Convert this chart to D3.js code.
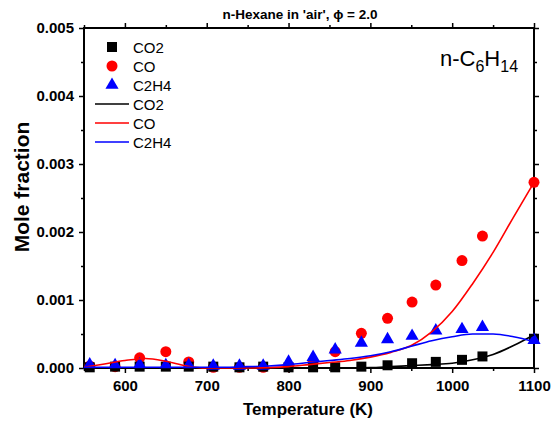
<!DOCTYPE html>
<html><head><meta charset="utf-8">
<script src="https://cdn.jsdelivr.net/npm/d3@7"></script>
<style>body{margin:0;background:#fff} text{font-family:"Liberation Sans",Arial,sans-serif}</style>
</head><body>
<svg id="c" width="560" height="427"></svg>
<script>
// measured points
const temps = [557, 588, 618, 650, 678, 708, 740, 769, 800, 830, 857, 889, 921, 951, 980, 1012, 1037, 1100];
const co2  = [0.00001, 0.00002, 0.00002, 0.00002, 0.00002, 0.00002, 0.00001, 0.00002, 0.00001, 0.00001, 0.00001, 0.00002, 0.00004, 0.00007, 0.00009, 0.00012, 0.00017, 0.00043];
const co   = [0.00003, 0.00002, 0.00015, 0.00024, 0.00009, 0.00001, 0.00001, 0.00001, 0.00002, 0.00009, 0.00024, 0.00051, 0.00073, 0.00097, 0.00122, 0.00158, 0.00194, 0.00273];
const c2h4 = [0.00005, 0.00004, 0.00005, 0.00004, 0.00004, 0.00003, 0.00003, 0.00003, 0.00009, 0.00016, 0.00027, 0.00037, 0.00042, 0.00047, 0.00055, 0.00057, 0.00060, 0.00041];
// model curves
const modelT    = [550, 575, 600, 625, 650, 675, 700, 725, 750, 775, 800, 825, 850, 875, 900, 925, 950, 975, 1000, 1025, 1050, 1075, 1100];
const modelCO2  = [0, 0, 0, 0, 0, 0, 0, 0, 0, 0, 0, 0, 0, 0, 0.000005, 0.00002, 0.000035, 0.00005, 0.00007, 0.00012, 0.00020, 0.00033, 0.00049];
const modelCO   = [0.00001, 0.00006, 0.00011, 0.00014, 0.00010, 0.00003, 0.0, 0.0, 0.0, 0.000005, 0.00002, 0.00005, 0.00008, 0.00011, 0.00016, 0.00023, 0.00033, 0.00053, 0.00083, 0.00124, 0.00170, 0.00222, 0.00273];
const modelC2H4 = [0.00001, 0.00001, 0.00001, 0.00001, 0.00001, 0.00001, 0.00001, 0.00001, 0.00002, 0.00003, 0.00005, 0.00008, 0.00011, 0.00014, 0.00018, 0.00024, 0.00032, 0.00040, 0.00046, 0.00050, 0.00050, 0.00046, 0.00039];
const xTicks = [600, 700, 800, 900, 1000, 1100];
const xMinor = [550, 650, 750, 850, 950, 1050];
const yTicks = [0, 0.001, 0.002, 0.003, 0.004, 0.005];
const yMinor = [0.0005, 0.0015, 0.0025, 0.0035, 0.0045];
const legendNames = ["CO2", "CO", "C2H4"];
const colors = ["#000000", "#ff0000", "#0000ff"];

const svg = d3.select("#c");
const L = 84, R = 534, T = 28, B = 368;
const x = d3.scaleLinear().domain([550, 1100]).range([L, R]);
const y = d3.scaleLinear().domain([0, 0.005]).range([B, T]);

function styleAxis(g, fs) {
  g.select(".domain").remove();
  g.selectAll(".tick line").attr("stroke", "#000").attr("stroke-width", 1.5);
  g.selectAll(".tick text").attr("font-size", fs).attr("font-weight", "bold")
    .attr("font-family", '"Liberation Sans",Arial,sans-serif').attr("fill", "#000");
}
// bottom
svg.append("g").attr("transform", `translate(0,${B})`)
  .call(d3.axisBottom(x).tickValues(xTicks).tickSize(5).tickPadding(7).tickFormat(d3.format("d")))
  .call(g => styleAxis(g, 15));
svg.append("g").attr("transform", `translate(0,${B})`)
  .call(d3.axisBottom(x).tickValues(xMinor).tickSize(3).tickFormat(""))
  .call(g => styleAxis(g, 15));
// top
svg.append("g").attr("transform", `translate(0,${T})`)
  .call(d3.axisTop(x).tickValues(xTicks).tickSize(5).tickFormat(""))
  .call(g => styleAxis(g, 15));
svg.append("g").attr("transform", `translate(0,${T})`)
  .call(d3.axisTop(x).tickValues(xMinor).tickSize(3).tickFormat(""))
  .call(g => styleAxis(g, 15));
// left
svg.append("g").attr("transform", `translate(${L},0)`)
  .call(d3.axisLeft(y).tickValues(yTicks).tickSize(5).tickPadding(5).tickFormat(d3.format(".3f")))
  .call(g => styleAxis(g, 15));
svg.append("g").attr("transform", `translate(${L},0)`)
  .call(d3.axisLeft(y).tickValues(yMinor).tickSize(3).tickFormat(""))
  .call(g => styleAxis(g, 15));
// right
svg.append("g").attr("transform", `translate(${R},0)`)
  .call(d3.axisRight(y).tickValues(yTicks).tickSize(5).tickFormat(""))
  .call(g => styleAxis(g, 15));
svg.append("g").attr("transform", `translate(${R},0)`)
  .call(d3.axisRight(y).tickValues(yMinor).tickSize(3).tickFormat(""))
  .call(g => styleAxis(g, 15));

svg.append("rect").attr("x", L).attr("y", T).attr("width", R - L).attr("height", B - T)
  .attr("fill", "none").attr("stroke", "#000").attr("stroke-width", 2);

const plot = svg.append("g");

// markers
const symSquare = d3.symbol().type(d3.symbolSquare).size(100);
const symCircle = d3.symbol().type(d3.symbolCircle).size(95);
const symTri = d3.symbol().type(d3.symbolTriangle).size(75);

plot.selectAll(".co").data(temps).join("path")
  .attr("d", symCircle).attr("fill", colors[1])
  .attr("transform", (d, i) => `translate(${x(d)},${y(co[i])})`);
plot.selectAll(".co2").data(temps).join("path")
  .attr("d", symSquare).attr("fill", colors[0])
  .attr("transform", (d, i) => `translate(${x(d)},${y(co2[i])})`);
plot.selectAll(".c2h4").data(temps).join("path")
  .attr("d", symTri).attr("fill", colors[2])
  .attr("transform", (d, i) => `translate(${x(d)},${y(c2h4[i])})`);

// lines
const line = d3.line().curve(d3.curveMonotoneX);
[[modelCO2, 0], [modelCO, 1], [modelC2H4, 2]].forEach(([arr, ci]) => {
  plot.append("path")
    .attr("d", line(modelT.map((t, i) => [x(t), y(arr[i])])))
    .attr("fill", "none").attr("stroke", colors[ci]).attr("stroke-width", 1.6);
});

// legend
const lg = svg.append("g");
const rowY = [47, 66, 85, 104, 123, 142];
const syms = [symSquare, symCircle, symTri];
legendNames.forEach((n, i) => {
  lg.append("path").attr("d", syms[i]).attr("fill", colors[i])
    .attr("transform", `translate(112,${rowY[i]})`);
  lg.append("text").attr("x", 133).attr("y", rowY[i] + 5.5).attr("font-size", 15).text(n);
});
legendNames.forEach((n, i) => {
  const yy = rowY[i + 3];
  lg.append("line").attr("x1", 95).attr("x2", 129).attr("y1", yy).attr("y2", yy)
    .attr("stroke", colors[i]).attr("stroke-width", 1.6);
  lg.append("text").attr("x", 133).attr("y", yy + 5.5).attr("font-size", 15).text(n);
});

// species label
const sp = svg.append("text").attr("x", 440).attr("y", 66).attr("font-size", 22);
sp.append("tspan").text("n-C");
sp.append("tspan").attr("font-size", 16).attr("dy", 6).text("6");
sp.append("tspan").attr("dy", -6).text("H");
sp.append("tspan").attr("font-size", 16).attr("dy", 6).text("14");

// title
svg.append("text").attr("x", 300).attr("y", 19).attr("text-anchor", "middle")
  .attr("font-size", 13.5).attr("font-weight", "bold").text("n-Hexane in 'air', \u03D5 = 2.0");
// axis titles
svg.append("text").attr("x", 308).attr("y", 415).attr("text-anchor", "middle")
  .attr("font-size", 17).attr("font-weight", "bold").text("Temperature (K)");
svg.append("text").attr("transform", "translate(29,187) rotate(-90)").attr("text-anchor", "middle")
  .attr("font-size", 21).attr("font-weight", "bold").text("Mole fraction");
</script>
</body></html>
